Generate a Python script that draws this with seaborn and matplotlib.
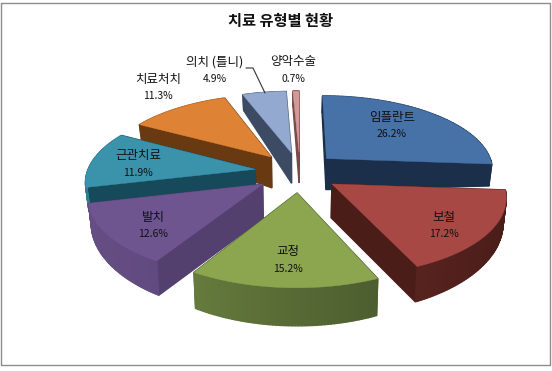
import numpy as np
import matplotlib
matplotlib.use('Agg')
import matplotlib.pyplot as plt
import seaborn as sns
from matplotlib.colors import to_rgb

# chart data, clockwise from 12 o'clock
categories = ['임플란트', '보철', '교정', '발치', '근관치료', '치료처치', '의치 (틀니)', '양악수술']
shares = [26.2, 17.2, 15.2, 12.6, 11.9, 11.3, 4.9, 0.7]
percent_labels = ['26.2%', '17.2%', '15.2%', '12.6%', '11.9%', '11.3%', '4.9%', '0.7%']

top_colors = ['#4672a8', '#a84844', '#8ba64f', '#6f5590', '#3a92ab', '#de8235', '#93a9cf', '#cf9a98']
wall_colors = ['#1b2f4b', '#4a1d19', '#42522a', '#54406f', '#16495a', '#693a12', '#3d4a63', '#7a4a4a']
label_pos = [(392, 117), (444, 217), (288, 252), (153, 217), (138, 156), (158, 79), (215, 62), (293, 62)]

# projection of the tilted pie, fitted by eye
CX_RIGHT, CX_LEFT, CY = 294, 300, 172
AX_X, AX_Y = 168, 75
PERSP = 0.14
EXPLODE = 0.27


def to_screen(u, v, cx, lower=False):
    w = 1 + PERSP * v
    x = AX_X * u / w
    y = CY - AX_Y * v / w
    if lower:
        x = x * 0.985
        # wall height shrinks towards the back and the sides
        y = y + 33 - 7 * u ** 2 - 8.8 * v - 3.8 * v ** 2
    return cx + x, y


def wedge_outline(start, end, n=60):
    mid = (start + end) / 2
    u0 = EXPLODE * np.sin(mid)
    v0 = EXPLODE * np.cos(mid)
    th = np.linspace(start, end, n)
    u = np.concatenate([[u0], u0 + np.sin(th)])
    v = np.concatenate([[v0], v0 + np.cos(th)])
    return u, v, th


sns.set_theme(style='white')
plt.rcParams['font.family'] = ['Noto Sans CJK KR', 'DejaVu Sans']

fig = plt.figure(figsize=(5.52, 3.71), dpi=100, facecolor='white')
ax = fig.add_axes([0, 0, 1, 1])
ax.set_xlim(0, 552)
ax.set_ylim(371, 0)
ax.axis('off')

# chart frame
ax.plot([1, 550, 550, 1, 1], [3, 3, 365, 365, 3], color='#8c8c8c', lw=1.0)

angles = np.cumsum([0] + shares) / sum(shares) * 2 * np.pi
palette = sns.color_palette(top_colors)
walls = sns.color_palette(wall_colors)

# painter's order, back wedges first
mids = (angles[:-1] + angles[1:]) / 2
order = sorted(range(len(shares)), key=lambda i: -np.cos(mids[i]))

for i in order:
    u, v, th = wedge_outline(angles[i], angles[i + 1])
    cx = CX_LEFT if np.sin(mids[i]) < 0 else CX_RIGHT
    xt, yt = to_screen(u, v, cx)
    xb, yb = to_screen(u, v, cx, lower=True)
    top = np.array(to_rgb(palette[i]))
    wall = np.array(to_rgb(walls[i]))

    quads = []
    n = len(u)
    for k in range(n):
        j = (k + 1) % n
        if k == 0 or j == 0:
            col = wall
        else:
            t = (1 - np.sin((th[k - 1] + th[j - 1]) / 2)) / 2
            col = wall + (top - wall) * t ** 1.3 * 0.7
        quads.append(((v[k] + v[j]) / 2, [xt[k], xt[j], xb[j], xb[k]], [yt[k], yt[j], yb[j], yb[k]], col))
    for _, qx, qy, col in sorted(quads, key=lambda q: -q[0]):
        ax.fill(qx, qy, color=tuple(col), lw=1.0, zorder=2 + order.index(i) * 0.1)
    ax.fill(xt, yt, color=tuple(top), lw=0.3, zorder=2.05 + order.index(i) * 0.1)

# labels
for name, pct, (x, y) in zip(categories, percent_labels, label_pos):
    ax.text(x, y, name, ha='center', va='center', fontsize=9, color='#111111', zorder=5)
    ax.text(x, y + 17, pct, ha='center', va='center', fontsize=7.5, color='#111111', zorder=5)

# leader line for the denture slice
ax.plot([246, 253, 265], [68, 68, 93], color='#333333', lw=0.8, zorder=5)

ax.text(280, 21, '치료 유형별 현황', ha='center', va='center', fontsize=11, color='#111111', fontweight='bold')

fig.savefig('out.png', dpi=100, facecolor='white')
